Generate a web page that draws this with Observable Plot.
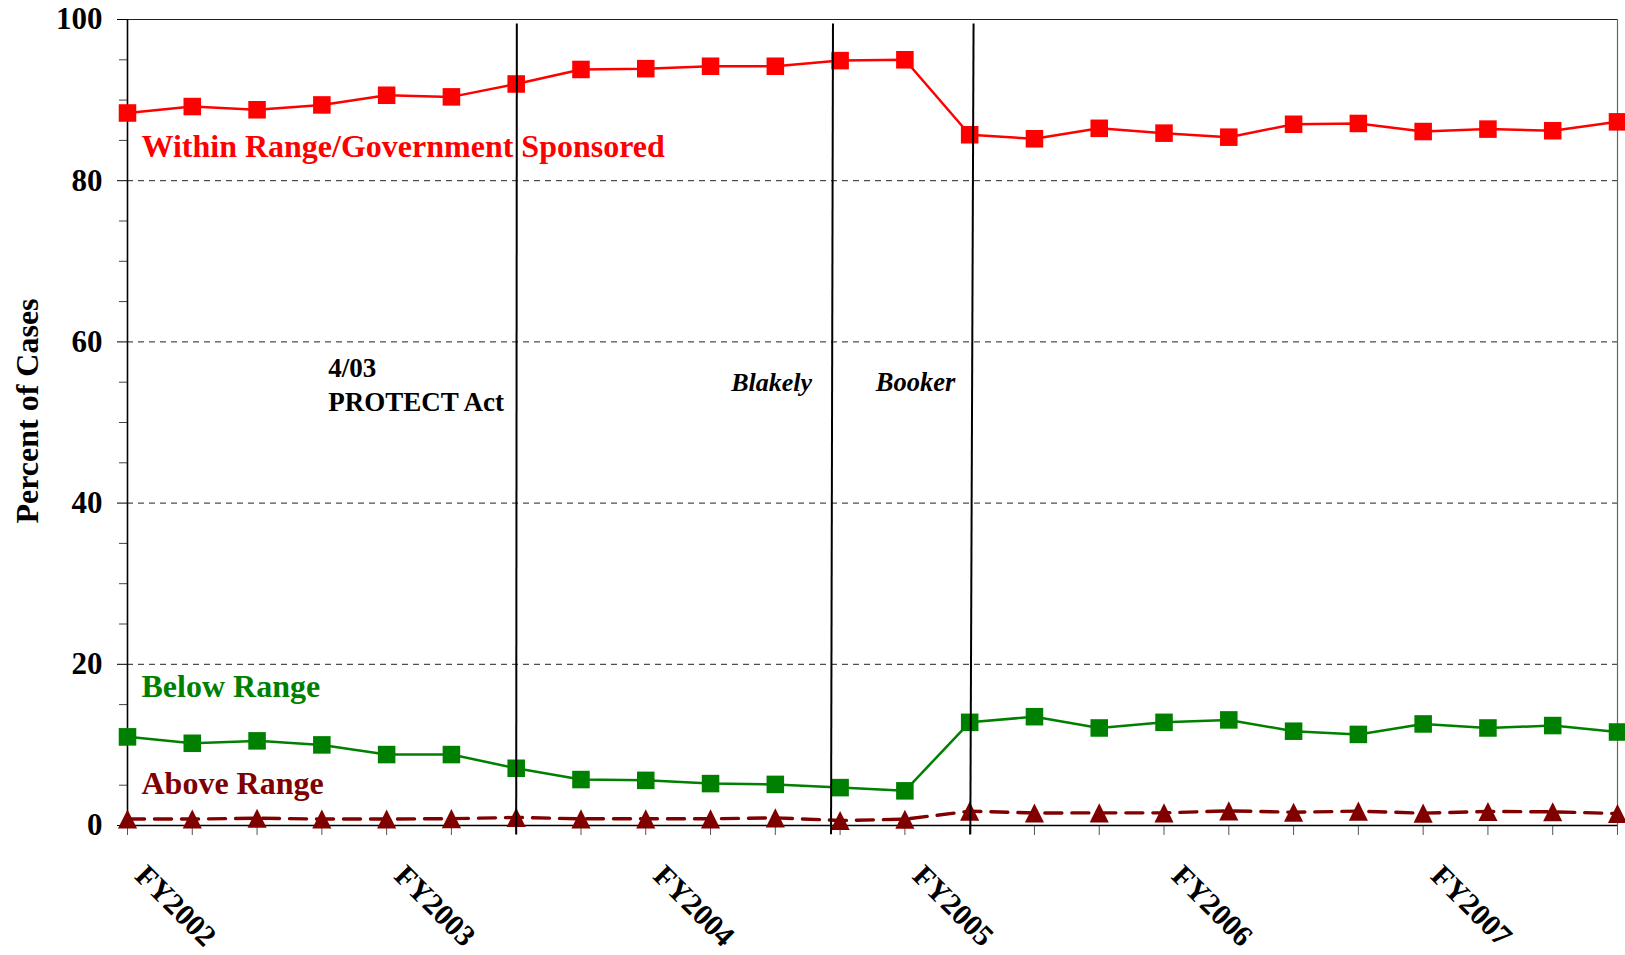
<!DOCTYPE html>
<html><head><meta charset="utf-8">
<script src="https://cdn.jsdelivr.net/npm/d3@7"></script>
<script src="https://cdn.jsdelivr.net/npm/@observablehq/plot@0.6"></script>
<style>
html,body{margin:0;padding:0;background:#fff;}
#chart{width:1625px;height:955px;}
</style></head><body><div id="chart"></div>
<script>
// Quarters FY2002 Q1 .. FY2007 Q4 (index 0..23)
const quarterIdx = [0,1,2,3,4,5,6,7,8,9,10,11,12,13,14,15,16,17,18,19,20,21,22,23];
const fyLabels = ["FY2002","FY2003","FY2004","FY2005","FY2006","FY2007"];
const fyIdx = [0,4,8,12,16,20];

const withinRange = [88.4,89.2,88.8,89.4,90.6,90.4,92.0,93.8,93.9,94.2,94.2,94.9,95.0,85.7,85.2,86.5,85.9,85.4,87.0,87.1,86.1,86.4,86.2,87.3];
const belowRange  = [11.0,10.2,10.5,10.0,8.8,8.8,7.1,5.7,5.6,5.2,5.1,4.7,4.3,12.8,13.5,12.1,12.8,13.1,11.7,11.3,12.6,12.1,12.4,11.6];
const aboveRange  = [0.8,0.8,0.9,0.8,0.8,0.85,1.0,0.83,0.83,0.83,0.95,0.62,0.78,1.78,1.55,1.57,1.57,1.82,1.65,1.78,1.53,1.74,1.7,1.49];

const seriesNames = ["Within Range/Government Sponsored","Below Range","Above Range"];
const seriesColors = ["#FF0000","#008000","#800000"];

const events = ["4/03\nPROTECT Act","Blakely","Booker"];
const eventTop = [6.01,10.89,13.06];
const eventBottom = [6.0,10.86,13.01];

const yMajor = [0,20,40,60,80,100];
const yMinor = [5,10,15,25,30,35,45,50,55,65,70,75,85,90,95];
const yGrid = [20,40,60,80];

const rows = quarterIdx.map(i => ({i, within: withinRange[i], below: belowRange[i], above: aboveRange[i]}));
const serif = "'Liberation Serif','Times New Roman',serif";

const triangle = {
  draw(context, size) {
    const h = Math.sqrt(size) / 2;
    context.moveTo(0, -h);
    context.lineTo(h, h);
    context.lineTo(-h, h);
    context.closePath();
  }
};

const chart = Plot.plot({
  width: 1625, height: 955,
  marginLeft: 127, marginRight: 8, marginTop: 19, marginBottom: 130,
  style: {fontFamily: serif, fontSize: "31px", fontWeight: "bold", background: "#fff", color: "#000"},
  x: {domain: [0, 23]},
  y: {domain: [0, 100]},
  marks: [
    Plot.ruleY(yGrid, {stroke: "#222", strokeWidth: 1, strokeDasharray: "6,5"}),
    Plot.ruleY([100], {stroke: "#222", strokeWidth: 1.2}),
    Plot.ruleX([23], {y1: 0, y2: 100, stroke: "#666", strokeWidth: 1.2}),
    Plot.axisY({ticks: yMinor, tickSize: 8, tickFormat: () => "", label: null, stroke: "#444"}),
    Plot.axisY({ticks: yMajor, tickSize: 10, tickPadding: 15, tickFormat: d => String(d), label: null, stroke: "#000", fontSize: 31, fontWeight: "bold"}),
    Plot.axisX({ticks: quarterIdx, tickSize: 10, tickFormat: () => "", label: null, stroke: "#555"}),
    Plot.ruleX([0], {y1: 0, y2: 100, stroke: "#000", strokeWidth: 1.6}),
    Plot.ruleY([0], {stroke: "#000", strokeWidth: 1.6}),

    Plot.line(rows, {x: "i", y: "within", stroke: seriesColors[0], strokeWidth: 2.5}),
    Plot.dot(rows, {x: "i", y: "within", symbol: "square", r: 9.9, fill: seriesColors[0], stroke: "none"}),
    Plot.line(rows, {x: "i", y: "below", stroke: seriesColors[1], strokeWidth: 2.5}),
    Plot.dot(rows, {x: "i", y: "below", symbol: "square", r: 9.9, fill: seriesColors[1], stroke: "none"}),
    Plot.line(rows, {x: "i", y: "above", stroke: seriesColors[2], strokeWidth: 3.4, strokeDasharray: "17,10"}),
    Plot.dot(rows, {x: "i", y: "above", symbol: triangle, r: 10.8, fill: seriesColors[2], stroke: "none"}),

    Plot.link(events, {x1: eventTop, x2: eventBottom, y1: () => 99.5, y2: () => -1.1, stroke: "#000", strokeWidth: 2}),

    // series labels
    Plot.text([seriesNames[0]], {text: d => d, x: () => 0, y: () => 82.9, dx: 14, textAnchor: "start", lineAnchor: "bottom", fill: seriesColors[0], fontSize: 32, fontWeight: "bold"}),
    Plot.text([seriesNames[1]], {text: d => d, x: () => 0, y: () => 15.9, dx: 14, textAnchor: "start", lineAnchor: "bottom", fill: seriesColors[1], fontSize: 32, fontWeight: "bold"}),
    Plot.text([seriesNames[2]], {text: d => d, x: () => 0, y: () => 3.97, dx: 14, textAnchor: "start", lineAnchor: "bottom", fill: seriesColors[2], fontSize: 32, fontWeight: "bold"}),

    // event labels
    Plot.text([events[0]], {text: d => d, x: () => eventBottom[0], y: () => 51.4, dx: -188, textAnchor: "start", lineAnchor: "bottom", lineHeight: 1.27, fill: "#000", fontSize: 27, fontWeight: "bold"}),
    Plot.text([events[1]], {text: d => d, x: () => eventBottom[1], y: () => 53.85, dx: -19, textAnchor: "end", lineAnchor: "bottom", fill: "#000", fontSize: 26, fontWeight: "bold", fontStyle: "italic"}),
    Plot.text([events[2]], {text: d => d, x: () => eventBottom[2], y: () => 53.85, dx: -15, textAnchor: "end", lineAnchor: "bottom", fill: "#000", fontSize: 26.5, fontWeight: "bold", fontStyle: "italic"}),

    // x tick labels
    Plot.text(fyLabels, {text: d => d, x: (d, i) => fyIdx[i], frameAnchor: "bottom", rotate: 45, textAnchor: "start", lineAnchor: "bottom", dx: 6, dy: 52, fill: "#000", fontSize: 30, fontWeight: "bold"}),

    // y title
    Plot.text(["Percent of Cases"], {text: d => d, frameAnchor: "left", rotate: -90, textAnchor: "middle", lineAnchor: "bottom", dx: -90, dy: -11.5, fill: "#000", fontSize: 32, fontWeight: "bold"})
  ]
});
document.getElementById("chart").appendChild(chart);
</script>
</body></html>
